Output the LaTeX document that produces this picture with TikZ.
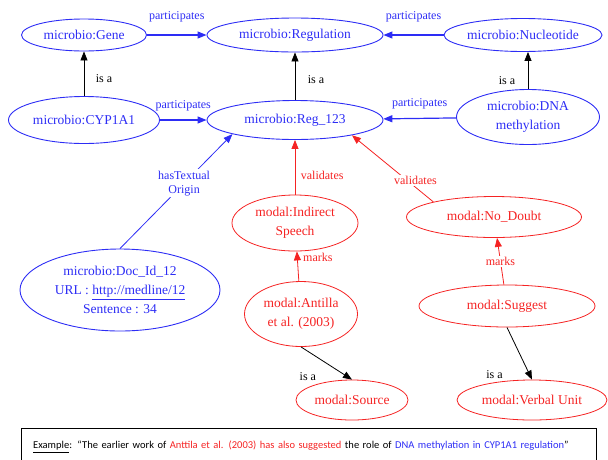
\documentclass[tikz,border=0pt]{standalone}
\usepackage{fontspec}
\setmainfont{Liberation Serif}
\newfontfamily\graphfont{Liberation Serif}
\newfontfamily\boxfont{Carlito}
\usetikzlibrary{positioning,shapes.geometric,arrows.meta}
\definecolor{bioblue}{RGB}{45,45,245}
\definecolor{modred}{RGB}{245,35,35}
\tikzset{
  concept/.style={draw, ellipse, inner sep=0pt, align=center, font=\graphfont\fontsize{13.5}{19}\selectfont},
  bio/.style={concept, bioblue, line width=0.9pt},
  modal/.style={concept, modred, line width=0.8pt},
  lbl/.style={font=\graphfont\fontsize{12}{14}\selectfont, inner sep=1.5pt, align=center},
  rel/.style={-{Triangle[length=9pt,width=7pt]}, line width=0.8pt},
  isa/.style={rel, black},
  part/.style={rel, bioblue, line width=1.2pt},
  orig/.style={rel, bioblue},
  val/.style={rel, modred},
}

\begin{document}
\begin{tikzpicture}[x=1pt,y=-1pt]
\useasboundingbox (0,0) rectangle (608,459);
% microbio concepts
\node[bio, minimum width=125, minimum height=32] (gene) at (84,35) {microbio:Gene};
\node[bio, minimum width=176, minimum height=34] (regulation) at (295,35) {microbio:Regulation};
\node[bio, minimum width=156, minimum height=33] (nucleotide) at (523,35) {microbio:Nucleotide};
\node[bio, minimum width=151, minimum height=47] (cyp) at (84,120) {microbio:CYP1A1};
\node[bio, minimum width=176, minimum height=39] (reg) at (295,120) {microbio:Reg\_123};
\node[bio, minimum width=143, minimum height=55] (dna) at (528,117) {microbio:DNA\\methylation};
\node[bio, minimum width=200, minimum height=82] (doc) at (120,290)
  {microbio:Doc\_Id\_12\\URL : \underline{http://medline/12}\\Sentence : 34};
% modal concepts
\node[modal, minimum width=126, minimum height=56] (ind) at (295,223) {modal:Indirect\\Speech};
\node[modal, minimum width=113, minimum height=65] (ant) at (301,314) {modal:Antilla\\et al. (2003)};
\node[modal, minimum width=112, minimum height=40] (src) at (352,400) {modal:Source};
\node[modal, minimum width=175, minimum height=41] (nodoubt) at (494,217) {modal:No\_Doubt};
\node[modal, minimum width=176, minimum height=42] (sug) at (507,306) {modal:Suggest};
\node[modal, minimum width=150, minimum height=40] (verbal) at (532,400) {modal:Verbal Unit};

% example sentence
\node[draw, anchor=north west, text width=551pt, inner xsep=12pt, inner ysep=13pt,
  font=\boxfont\fontsize{10.5}{12}\selectfont, align=left] (ex) at (21,428)
  {\underline{Example}: “The earlier work of \textcolor{modred}{Anttila et al. (2003) has also suggested} the role of \textcolor{bioblue}{DNA methylation in CYP1A1 regulation}”};

% relations
\draw[part] (gene) -- node[lbl, above=11pt, bioblue] {participates} (regulation);
\draw[part] (nucleotide) -- node[lbl, above=11pt, bioblue] {participates} (regulation);
\draw[part] (cyp) -- node[lbl, above=7pt, bioblue] {participates} (reg);
\draw[part] (dna) -- node[lbl, above=7pt, bioblue] {participates} (reg);
\draw[isa] (cyp) -- node[lbl, pos=0.4, right=10pt] {is a} (gene);
\draw[isa] (reg) -- node[lbl, pos=0.43, right=11pt] {is a} (regulation);
\draw[isa] (dna.north) -- node[lbl, pos=0.22, left=11pt] {is a} (dna.north |- nucleotide.south);
\draw[orig] (doc.north) -- node[lbl, pos=0.57, bioblue, fill=white] {hasTextual\\Origin} (reg.south west);
\draw[val] (ind) -- node[lbl, pos=0.35, right=4pt, modred] {validates} (reg);
\draw[val] (nodoubt.166) -- node[lbl, pos=0.22, yshift=7pt, modred, fill=white] {validates} (reg.345);
\draw[val] (ant) -- node[lbl, pos=0.8, right=4pt, modred] {marks} (ind);
\draw[val] (sug) -- node[lbl, modred, fill=white] {marks} (nodoubt);
\draw[isa] (ant.south) -- node[lbl, pos=0.9, left=29pt] {is a} (src.north);
\draw[isa] (sug.south) -- node[lbl, pos=0.9, left=25pt] {is a} (verbal.north);
\end{tikzpicture}
\end{document}
